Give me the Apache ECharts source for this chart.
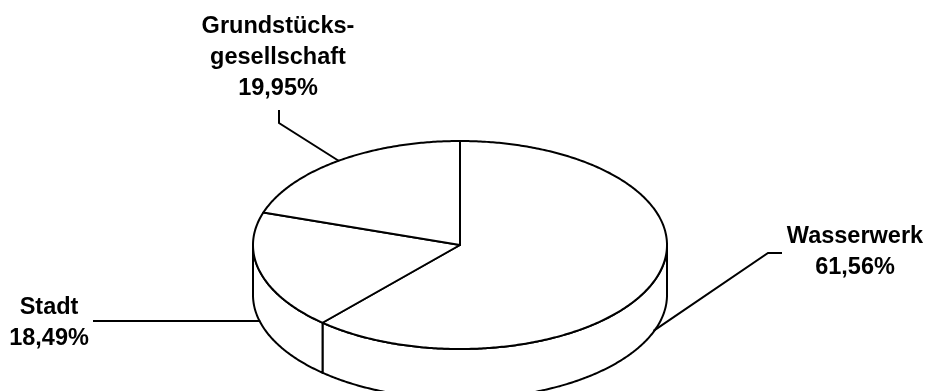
<!DOCTYPE html>
<html>
<head>
<meta charset="utf-8">
<script src="https://cdn.jsdelivr.net/npm/echarts@6/dist/echarts.min.js"></script>
<style>html,body{margin:0;padding:0;background:#fff;}#c{width:929px;height:391px;}</style>
</head>
<body>
<div id="c"></div>
<script>
// ---- data ----
const categories = ['Wasserwerk', 'Stadt', 'Grundstücksgesellschaft'];
const labelNames = ['Wasserwerk', 'Stadt', 'Grundstücks-\ngesellschaft'];
const values = [61.56, 18.49, 19.95];
const percentLabels = ['61,56%', '18,49%', '19,95%'];

// ---- layout / style (not data) ----
const geo = { cx: 460, cy: 245, rx: 207, ry: 104, depth: 50 };
const labelLayout = [
  { path: [[768, 253], [782, 253]], text: [855, 252.5] },
  { path: [[93, null]], text: [49, 323.5] },
  { path: [[279, 123], [279, 110]], text: [278, 57.5] }
];
const total = values.reduce((a, b) => a + b, 0);
const starts = [];
values.reduce((acc, v, i) => { starts[i] = acc; return acc + v; }, 0);

function pt(t, dy) {
  return [geo.cx + geo.rx * Math.sin(t), geo.cy - geo.ry * Math.cos(t) + (dy || 0)];
}
function arc(a0, a1, dy) {
  const n = Math.max(2, Math.ceil(Math.abs(a1 - a0) / 0.01));
  const pts = [];
  for (let k = 0; k <= n; k++) pts.push(pt(a0 + (a1 - a0) * k / n, dy));
  return pts;
}
const lineStyle = { stroke: '#000', lineWidth: 2, fill: '#fff', lineJoin: 'round' };

function renderItem(params, api) {
  const i = params.dataIndex;
  const v = api.value(1);
  const a0 = api.value(2) / total * Math.PI * 2;
  const a1 = a0 + v / total * Math.PI * 2;
  const children = [];
  // front wall
  const s = Math.max(a0, Math.PI / 2), e = Math.min(a1, Math.PI * 1.5);
  if (e > s) {
    const top = arc(s, e, 0);
    const bot = arc(e, s, geo.depth);
    children.push({ type: 'polygon', shape: { points: top.concat(bot) }, style: lineStyle });
  }
  // top face
  children.push({ type: 'polygon', shape: { points: [[geo.cx, geo.cy]].concat(arc(a0, a1, 0)) }, style: lineStyle });
  // leader
  const mid = (a0 + a1) / 2;
  const front = Math.cos(mid) < 0;
  const anchor = front ? pt(mid, geo.depth - 1) : pt(mid, 0);
  const L = labelLayout[i];
  const pts = [anchor].concat(L.path.map(p => [p[0], p[1] == null ? anchor[1] : p[1]]));
  children.push({ type: 'polyline', shape: { points: pts }, style: { stroke: '#000', lineWidth: 2, fill: null } });
  children.push({
    type: 'text',
    style: {
      text: labelNames[i] + '\n' + percentLabels[i],
      x: L.text[0], y: L.text[1],
      align: 'center', verticalAlign: 'middle',
      font: 'bold 23.5px "Liberation Sans", Arial, sans-serif',
      lineHeight: 31, fill: '#000'
    }
  });
  return { type: 'group', children: children };
}

const chart = echarts.init(document.getElementById('c'), null, { renderer: 'canvas' });
chart.setOption({
  backgroundColor: '#fff',
  animation: false,
  series: [{
    type: 'custom',
    coordinateSystem: 'none',
    renderItem: renderItem,
    data: categories.map((c, i) => ({ name: c, value: [i, values[i], starts[i]] }))
  }]
});
</script>
</body>
</html>
